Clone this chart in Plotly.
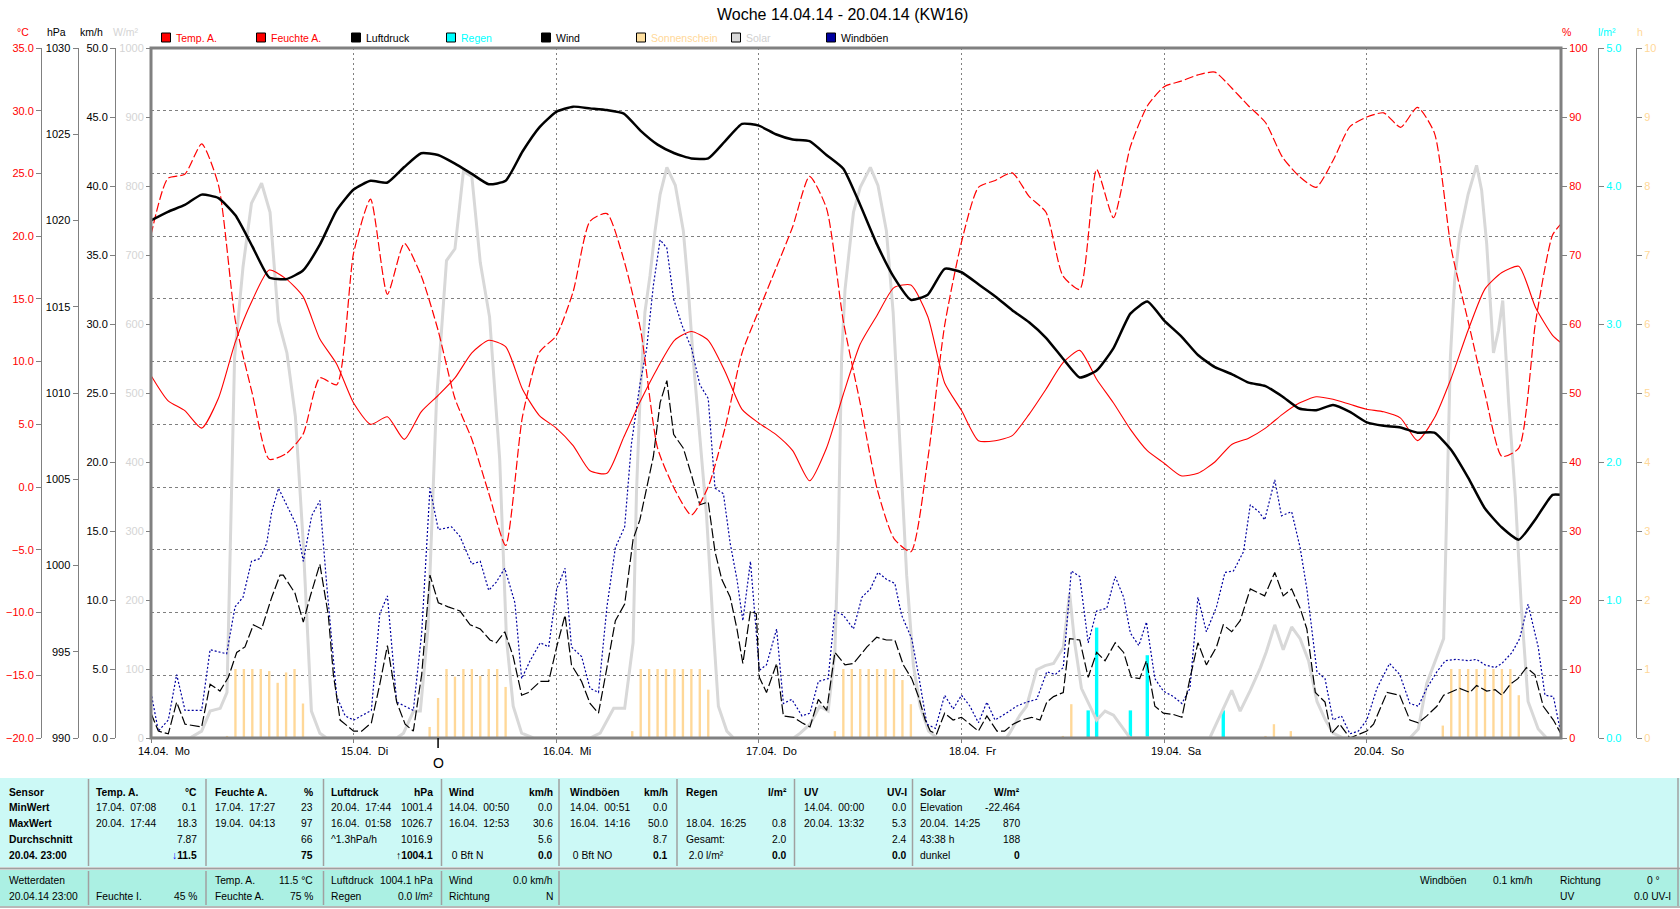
import plotly.graph_objects as go

W, H = 1680, 909

# ---------------- data ----------------
hours = list(range(0, 167, 2)) + [167]

temp = [8.9, 6.9, 6.1, 4.7, 7.1, 11.6, 14.9, 17.3, 16.6, 15.2, 11.8, 9.8, 6.7, 5.0, 5.6, 3.8, 6.0, 7.3, 8.7, 10.7, 11.7, 11.2,
        7.8, 5.7, 4.7, 3.3, 1.3, 1.1, 4.0, 6.9, 9.5, 11.7, 12.4, 11.7, 9.2, 6.2, 5.1, 4.2, 2.9, 0.5, 3.1, 7.4, 11.4,
        13.7, 15.9, 16.1, 13.6, 8.3, 6.1, 3.7, 3.7, 4.1, 5.8, 7.8, 9.9, 10.9, 8.6, 6.7, 4.6, 2.9, 1.9, 0.9, 1.1, 2.0,
        3.4, 3.9, 4.7, 5.8, 6.7, 7.2, 7.0, 6.6, 6.2, 6.0, 5.5, 3.7, 5.5, 8.7, 12.5, 15.8, 17.1, 17.6, 14.3, 12.1, 11.5]

humidity = [72.9, 81.1, 81.7, 86.1, 80.1, 60.4, 49.9, 40.4, 41.2, 44.0, 52.2, 51.2, 70.3, 78.1, 64.3, 71.7, 67.0, 59.1, 49.2, 43.3, 35.5, 27.9,
            46.6, 55.9, 58.3, 64.7, 74.9, 76.0, 69.3, 59.1, 42.0, 36.1, 32.3, 36.4, 45.0, 55.8, 62.0, 68.0, 74.1, 81.4, 76.8, 60.4, 48.5,
            36.1, 28.9, 27.0, 40.4, 59.8, 71.9, 79.8, 80.8, 81.9, 78.5, 76.2, 67.0, 65.0, 82.4, 75.4, 85.7, 91.6, 94.4, 95.2, 96.1, 96.5,
            94.2, 91.6, 89.2, 84.2, 81.4, 79.8, 83.7, 88.6, 90.0, 90.6, 88.5, 91.4, 87.7, 70.9, 60.4, 49.9, 40.8, 42.0, 60.4, 72.9, 74.5]

pressure = [1020.0, 1020.5, 1020.9, 1021.5, 1021.3, 1020.3, 1018.5, 1016.7, 1016.6, 1017.1, 1018.6, 1020.6, 1021.8, 1022.3, 1022.2, 1023.1, 1023.9, 1023.8, 1023.3, 1022.7, 1022.1, 1022.3,
            1024.0, 1025.4, 1026.3, 1026.6, 1026.5, 1026.4, 1026.2, 1025.2, 1024.4, 1023.9, 1023.6, 1023.6, 1024.6, 1025.6, 1025.5, 1025.0, 1024.7, 1024.6, 1023.8, 1023.0, 1020.9,
            1018.6, 1016.7, 1015.4, 1015.7, 1017.2, 1017.0, 1016.3, 1015.6, 1014.8, 1014.1, 1013.2, 1012.0, 1010.9, 1011.3, 1012.6, 1014.6, 1015.3, 1014.2, 1013.3, 1012.2, 1011.5,
            1011.1, 1010.6, 1010.4, 1009.8, 1009.1, 1009.0, 1009.3, 1008.9, 1008.3, 1008.1, 1008.0, 1007.7, 1007.7, 1006.7, 1005.1, 1003.3, 1002.2, 1001.5, 1002.7, 1004.1, 1004.1]

wind_t = [0, 0.87, 2.05, 3.04, 4.03, 6.0, 7.0, 8.17, 9.16, 10.15, 11.13, 12.12, 13.1, 14.3, 15.28, 15.67, 17.05, 18.04, 18.83, 20.0,
          21.0, 21.6, 22.4, 24.0, 24.95, 26.1, 27.1, 28.0, 29.1, 30.1, 31.07, 32.06, 33.04, 34.03, 35.2, 36.6, 37.8, 39.0, 40.15, 40.9, 41.9,
          42.9, 43.9, 44.7, 46.1, 47.1, 48.05, 49.04, 49.8, 51.0, 52.0, 53.0, 54.0, 55.0, 56.1, 57.1, 57.9, 58.7, 59.5, 60.3, 61.1,
          61.9, 63.05, 64.04, 65.0, 66.0, 66.8, 67.6, 68.6, 69.4, 70.1, 71.0, 71.7, 72.05, 72.9, 74.1, 74.9, 76.1, 77.1, 78.05, 79.04,
          80.03, 81.0, 82.2, 83.2, 84.8,
          85.95, 87.1, 88.1, 89.1, 90.1, 90.9, 91.7, 92.3, 93.05, 94.0, 95.0, 96.0, 97.0, 98.0, 99.0, 100.2, 101.1, 102.1, 103.1, 104.3,
          105.3, 106.1, 106.9, 108.05, 108.8, 110.0, 111.0, 112.0, 113.0, 114.2, 115.2, 116.1, 117.1, 117.9, 118.9, 119.9, 121.1, 122.1, 123.05, 124.0,
          125.0,
          126.2, 127.0, 128.0, 129.0, 130.2, 131.9, 133.1, 134.1, 135.1, 136.1, 136.9, 137.9, 139.05, 139.8, 140.8, 142.0, 144.0, 144.8, 146.4, 147.9,
          149.1, 150.1, 151.1, 152.3, 153.1, 155.0, 156.2, 157.0, 158.2, 159.2, 160.0, 161.0, 161.9, 162.9, 163.9, 164.9, 166.1, 167.0]
wind_v = [1.8, 0.5, 0.3, 2.6, 1.0, 0.8, 3.9, 3.4, 4.4, 6.2, 6.6, 8.2, 7.9, 10.2, 11.8, 11.8, 10.5, 8.4, 10.2, 12.6,
          8.9, 4.6, 1.3, 0.5, 0.5, 1.1, 3.9, 6.7, 2.6, 1.0, 0.5, 4.6, 11.8, 9.8, 9.5, 9.2, 8.2, 7.9, 7.1, 6.9, 7.7,
          5.9, 3.1, 3.3, 4.1, 4.1, 6.6, 8.9, 5.3, 4.1, 2.5, 1.8, 5.1, 8.5, 9.7, 14.4, 15.8, 18.2, 20.4, 24.3, 25.9,
          22.0, 21.0, 19.0, 16.9, 17.1, 13.5, 11.5, 10.2, 7.9, 5.4, 9.2, 9.0, 4.4, 3.3, 5.4, 1.6, 1.5, 1.1, 0.8, 2.8,
          2.0, 6.2, 5.3, 5.4, 6.6,
          7.3, 7.1, 7.1, 5.3, 4.3, 3.0, 1.3, 0.5, 0.3, 1.8, 1.3, 1.5, 1.0, 0.5, 1.6, 0.5, 0.5, 1.0, 1.3, 1.5,
          1.3, 2.6, 3.0, 3.3, 7.2, 7.1, 4.4, 6.2, 5.6, 6.9, 6.2, 4.4, 4.3, 5.6, 2.3, 1.8, 1.7, 1.5, 4.3, 6.9,
          5.3,
          6.6, 8.2, 7.7, 8.5, 10.8, 10.3, 12.0, 10.3, 10.8, 9.4, 7.9, 3.3, 2.6, 0.3, 1.0, 0.0, 0.5, 1.0, 3.3, 3.1,
          1.3, 1.1, 1.6, 2.3, 3.1, 3.6, 3.3, 3.8, 3.4, 3.5, 3.1, 3.9, 4.3, 5.1, 4.6, 2.3, 1.3, 0.3]

gust_t = [0, 0.87, 2.05, 3.04, 4.03, 6.0, 7.0, 8.96, 9.95, 10.9, 11.9, 12.9, 13.7, 14.3, 15.1, 16.5, 17.25, 18.04, 19.03, 20.0,
          20.8, 22.0, 23.0, 24.0, 24.95, 26.1, 27.1, 28.0, 29.1, 30.1, 31.07, 32.06, 33.04, 34.03, 35.6, 36.6, 38.0, 39.0, 40.0, 40.9, 41.9,
          43.1, 43.9, 44.9, 46.1, 47.1, 48.05, 49.04, 49.8, 51.0, 52.0, 53.0, 54.0, 55.0, 56.1, 56.9, 57.9, 58.7, 59.5, 60.3, 61.1,
          61.9, 62.9, 64.04, 65.0, 66.0, 66.8, 67.8, 68.6, 69.4, 70.1, 71.0, 71.7, 72.05, 72.9, 74.1, 74.9, 75.9, 77.1, 78.05, 79.04,
          80.2, 81.0, 82.0, 83.2, 84.2, 85.2,
          86.1, 87.1, 88.1, 88.9, 90.1, 90.9, 91.9, 92.9, 94.0, 95.0, 96.0, 97.0, 98.0, 99.0, 99.96, 101.3, 102.5, 103.7, 104.9, 106.1,
          107.1, 108.05, 109.0, 110.0, 111.0, 112.0, 113.2, 114.2, 115.2, 116.0, 117.0, 117.9, 118.9, 119.9, 121.1, 122.1, 123.05, 124.0, 125.0,
          126.2, 127.2, 128.2, 129.4, 130.2, 131.2, 131.9, 133.1, 133.9, 135.1, 136.1, 136.9, 138.1, 139.05, 140.0, 141.0, 142.0, 143.0, 144.0, 145.2,
          146.7, 147.9, 149.1, 150.1, 151.1, 152.3, 153.3, 154.6, 156.0, 157.0, 158.0, 159.2, 160.0, 161.2, 162.1, 163.1, 164.3, 165.1, 166.1, 167.0]
gust_v = [3.3, 0.5, 1.3, 4.6, 2.0, 2.0, 6.4, 6.1, 9.5, 10.2, 12.8, 13.0, 14.1, 16.4, 18.1, 16.4, 15.4, 12.8, 16.1, 17.2,
          11.2, 3.0, 1.6, 1.3, 1.6, 2.0, 9.0, 10.3, 2.6, 2.3, 2.0, 7.6, 18.1, 15.1, 15.3, 14.6, 12.6, 12.8, 10.7, 11.3, 12.3,
          9.8, 4.3, 5.6, 6.9, 6.6, 10.8, 12.3, 6.6, 5.9, 3.6, 3.3, 9.5, 13.8, 15.3, 21.3, 25.6, 28.2, 32.8, 36.1, 35.5,
          31.8, 29.9, 28.2, 25.6, 24.6, 18.1, 17.7, 14.1, 11.5, 8.5, 12.8, 7.9, 4.9, 5.3, 7.9, 2.5, 2.8, 1.6, 1.8, 4.1,
          4.3, 9.2, 8.9, 7.9, 10.2, 10.8,
          12.0, 11.5, 11.2, 8.9, 7.2, 4.6, 1.0, 0.7, 3.1, 2.1, 3.1, 2.3, 1.1, 2.6, 1.3, 1.8, 2.3, 2.6, 2.8, 4.8,
          4.6, 5.1, 12.1, 11.7, 6.9, 9.2, 9.4, 11.7, 10.2, 7.6, 6.7, 8.4, 4.3, 3.4, 3.0, 2.5, 3.6, 10.2, 7.7,
          9.5, 12.0, 12.1, 13.5, 16.9, 16.4, 15.8, 18.7, 16.1, 16.4, 13.8, 10.8, 4.8, 4.3, 1.3, 1.6, 0.3, 0.5, 1.3, 3.6,
          5.4, 4.6, 2.5, 2.3, 3.6, 4.8, 5.6, 5.7, 5.6, 5.7, 5.3, 5.1, 5.4, 6.2, 7.2, 9.7, 6.6, 3.1, 3.0, 0.3]

solar_t = [0, 4.6, 6.0, 7.0, 8.2, 9.0, 9.9, 10.9, 11.9, 13.1, 14.1, 15.1, 16.1, 17.1, 18.0, 19.0, 20.0, 20.8,
           29.1, 29.9, 31.1, 31.9, 32.8, 33.8, 35.0, 36.0, 37.0, 38.0, 39.0, 40.1, 41.3, 42.1, 42.9, 43.9, 45.3,
           52.0, 53.2, 54.8, 56.1, 57.1, 57.5, 57.9, 58.5, 59.1, 59.7, 60.3, 61.1, 62.1, 63.05, 63.6, 64.2, 65.0, 65.8, 66.6, 67.2, 68.2, 69.0,
           76.1, 76.9, 78.05, 79.2, 80.2, 81.0, 81.4, 81.8, 82.2, 82.8, 83.2, 84.0, 85.2, 86.1, 87.1, 87.9, 88.7, 89.5, 90.3, 91.1, 92.1, 93.1,
           101.3, 101.7, 102.9, 103.7, 104.9, 105.9, 106.9, 108.05, 108.8, 109.4, 110.2, 111.2, 112.0, 113.0, 114.0, 115.2, 115.95,
           125.4, 126.6, 128.0, 129.0, 130.2, 131.4, 132.1, 133.1, 134.1, 135.1, 136.1, 137.1, 138.1, 139.1, 140.0, 141.2,
           149.1, 150.1, 151.1, 153.1, 153.5, 153.9, 154.4, 155.0, 156.0, 157.0, 157.6, 158.2, 159.0, 159.6, 160.1, 160.8, 161.6, 162.3, 163.1, 164.3, 165.3, 167.0]
solar_v = [0, 0, 10, 39, 43, 66, 552, 683, 775, 804, 762, 604, 558, 466, 289, 39, 7, 0,
           0, 7, 39, 39, 158, 486, 692, 709, 821, 814, 689, 610, 404, 144, 46, 7, 0,
           0, 7, 43, 43, 138, 355, 486, 617, 670, 735, 788, 827, 801, 735, 657, 552, 440, 322, 158, 46, 10, 0,
           0, 7, 20, 46, 39, 125, 289, 552, 650, 716, 762, 798, 827, 801, 735, 617, 420, 236, 105, 46, 10, 0,
           0, 7, 33, 46, 99, 105, 108, 131, 210, 138, 72, 46, 26, 39, 33, 13, 0,
           0, 33, 69, 39, 69, 102, 125, 164, 128, 161, 144, 112, 53, 26, 7, 0,
           0, 13, 79, 144, 355, 552, 663, 729, 788, 830, 794, 716, 558, 591, 634, 486, 348, 190, 53, 13, 0, 0]

sun_t = [9, 10, 11, 12, 13, 14, 15, 16, 17, 18,
         33, 34, 35, 36, 37, 38, 39, 40, 41, 42,
         57, 58, 59, 60, 61, 62, 63, 64, 65, 66,
         81, 82, 83, 84, 85, 86, 87, 88, 89, 90,
         108, 109,
         132, 133, 135,
         153, 154, 155, 156, 157, 158, 159, 160, 161, 162]
sun_v = [0.03, 1.0, 1.0, 1.0, 1.0, 0.97, 0.8, 0.95, 1.0, 0.5,
         0.16, 0.58, 1.0, 0.89, 1.0, 1.0, 0.9, 1.0, 1.0, 0.74,
         0.1, 1.0, 1.0, 1.0, 1.0, 1.0, 1.0, 1.0, 1.0, 0.7,
         0.1, 1.0, 1.0, 1.0, 1.0, 1.0, 1.0, 1.0, 0.84, 0.49,
         0.03, 0.49,
         0.03, 0.2, 0.1,
         0.18, 1.0, 1.0, 1.0, 1.0, 1.0, 1.0, 1.0, 1.0, 0.62]

rain_t = [111, 112, 116, 118, 127]
rain_v = [0.2, 0.8, 0.2, 0.6, 0.2]

day_ticks = [0, 24, 48, 72, 96, 120, 144]
day_labels = ["14.04.\u00a0 Mo", "15.04.\u00a0 Di", "16.04.\u00a0 Mi", "17.04.\u00a0 Do",
              "18.04.\u00a0 Fr", "19.04.\u00a0 Sa", "20.04.\u00a0 So"]
moon_hour = 34

legend_names = ["Temp. A.", "Feuchte A.", "Luftdruck", "Regen", "Wind", "Sonnenschein", "Solar", "Windböen"]

title_text = "Woche 14.04.14 - 20.04.14 (KW16)"

# summary table
tbl_col0 = ["Sensor", "MinWert", "MaxWert", "Durchschnitt", "20.04. 23:00"]
tbl_heads = [("Temp. A.", "°C"), ("Feuchte A.", "%"), ("Luftdruck", "hPa"), ("Wind", "km/h"),
             ("Windböen", "km/h"), ("Regen", "l/m²"), ("UV", "UV-I"), ("Solar", "W/m²")]
tbl_rows = [
    [("17.04.\u00a0 07:08", "0.1"), ("20.04.\u00a0 17:44", "18.3"), ("", "7.87"), ("", "<span style='color:#0000FF'>↓</span>11.5")],
    [("17.04.\u00a0 17:27", "23"), ("19.04.\u00a0 04:13", "97"), ("", "66"), ("", "75")],
    [("20.04.\u00a0 17:44", "1001.4"), ("16.04.\u00a0 01:58", "1026.7"), ("^1.3hPa/h", "1016.9"), ("", "↑1004.1")],
    [("14.04.\u00a0 00:50", "0.0"), ("16.04.\u00a0 12:53", "30.6"), ("", "5.6"), ("\u00a00 Bft N", "0.0")],
    [("14.04.\u00a0 00:51", "0.0"), ("16.04.\u00a0 14:16", "50.0"), ("", "8.7"), ("\u00a00 Bft NO", "0.1")],
    [("", ""), ("18.04.\u00a0 16:25", "0.8"), ("Gesamt:", "2.0"), ("\u00a02.0 l/m²", "0.0")],
    [("14.04.\u00a0 00:00", "0.0"), ("20.04.\u00a0 13:32", "5.3"), ("", "2.4"), ("", "0.0")],
    [("Elevation", "-22.464"), ("20.04.\u00a0 14:25", "870"), ("43:38 h", "188"), ("dunkel", "0")],
]
status_rows = [
    [("Wetterdaten", ""), ("20.04.14 23:00", "")],
    [("", ""), ("Feuchte I.", "45 %")],
    [("Temp. A.", "11.5 °C"), ("Feuchte A.", "75 %")],
    [("Luftdruck", "1004.1 hPa"), ("Regen", "0.0 l/m²")],
    [("Wind", "0.0 km/h"), ("Richtung", "N")],
]
status_right = [("Windböen", "0.1 km/h", "Richtung", "0 °"), ("", "", "UV", "0.0 UV-I")]

# ---------------- styling / layout ----------------
RED = "#FF0000"
GRAY = "#808080"
SOLAR_C = "#D8D8D8"
SUN_C = "#FFD898"
CYAN = "#00FFFF"
GUST_C = "#0000A0"
FONT = "Liberation Sans"
TFS = 10.3  # table font size

PL, PR, PT, PB = 151, 1561, 48, 738


def px(x):
    return x / W


def py(y):
    return 1 - y / H


xdom = [px(PL), px(PR)]
ydom = [py(PB), py(PT)]

fig = go.Figure()

# draw order: main y (sunshine) first, then overlays in order
fig.add_trace(go.Bar(x=sun_t, y=sun_v, width=0.28, marker=dict(color=SUN_C, line=dict(width=0)),
                     yaxis="y", xaxis="x", hoverinfo="skip"))
fig.add_trace(go.Bar(x=rain_t, y=rain_v, width=0.4, marker=dict(color=CYAN, line=dict(width=0)),
                     yaxis="y2", xaxis="x", hoverinfo="skip"))
fig.add_trace(go.Scatter(x=solar_t, y=solar_v, mode="lines", line=dict(color=SOLAR_C, width=3),
                         yaxis="y3", hoverinfo="skip"))
fig.add_trace(go.Scatter(x=gust_t, y=gust_v, mode="lines", line=dict(color=GUST_C, width=1.2, dash="2px,2px"),
                         yaxis="y4", hoverinfo="skip"))
fig.add_trace(go.Scatter(x=wind_t, y=wind_v, mode="lines", line=dict(color="black", width=1.2, dash="10px,3px"),
                         yaxis="y4", hoverinfo="skip"))
fig.add_trace(go.Scatter(x=hours, y=humidity, mode="lines", line=dict(color=RED, width=1.2, dash="9px,3px", shape="spline", smoothing=0.6),
                         yaxis="y5", hoverinfo="skip"))
fig.add_trace(go.Scatter(x=hours, y=temp, mode="lines", line=dict(color=RED, width=1.1, shape="spline", smoothing=0.6),
                         yaxis="y6", hoverinfo="skip"))
fig.add_trace(go.Scatter(x=hours, y=pressure, mode="lines", line=dict(color="black", width=2.5, shape="spline", smoothing=0.5),
                         yaxis="y7", hoverinfo="skip"))


def yax(rng, dtick, fmt, color, pos, side="left", overlay=True, grid=False):
    d = dict(range=rng, dtick=dtick, tick0=rng[0], tickformat=fmt, tickfont=dict(family=FONT, size=11, color=color),
             ticks="outside", ticklen=5, tickcolor=GRAY, showline=True, linecolor=GRAY, linewidth=1,
             anchor="free", position=pos, side=side, showgrid=grid, zeroline=False, fixedrange=True,
             automargin=False, domain=ydom)
    if grid:
        d.update(gridcolor=GRAY, gridwidth=1, griddash="3px,3px")
    if overlay:
        d["overlaying"] = "y"
        d.pop("domain")
    return d


layout = dict(
    width=W, height=H, autosize=False,
    margin=dict(l=0, r=0, t=0, b=0, pad=0),
    paper_bgcolor="white", plot_bgcolor="white",
    showlegend=False, barmode="overlay", hovermode=False,
    font=dict(family=FONT, size=11, color="black"),
    xaxis=dict(domain=xdom, range=[0, 167], tickvals=day_ticks, showticklabels=False, ticks="outside",
               ticklen=4, tickcolor=GRAY, showgrid=True, gridcolor=GRAY, griddash="2px,3px", gridwidth=1,
               zeroline=False, showline=False, anchor="y", fixedrange=True, automargin=False),
    yaxis=yax([0, 10], 1, "d", "#FFD898", px(1636), side="right", overlay=False),
    yaxis2=yax([0, 5], 1, ".1f", CYAN, px(1598), side="right"),
    yaxis3=yax([0, 1000], 100, "d", "#D4D4D4", px(PL)),
    yaxis4=yax([0, 50], 5, ".1f", "black", px(115)),
    yaxis5=yax([0, 100], 10, "d", RED, px(PR), side="right"),
    yaxis6=yax([-20, 35], 5, ".1f", RED, px(41), grid=True),
    yaxis7=yax([990, 1030], 5, "d", "black", px(77.5)),
)
fig.update_layout(**layout)

shapes = []
annotations = []


def text(x, y, s, anchor="left", color="black", size=TFS, bold=False):
    if bold and s:
        s = "<b>" + s + "</b>"
    annotations.append(dict(x=px(x), y=py(y), xref="paper", yref="paper", text=s, showarrow=False,
                            xanchor=anchor, yanchor="middle", borderpad=0,
                            font=dict(family=FONT, size=size, color=color)))


# plot frame
shapes.append(dict(type="rect", xref="paper", yref="paper", x0=px(PL), x1=px(PR), y0=py(PB), y1=py(PT),
                   line=dict(color=GRAY, width=3), layer="above"))

# title
text(842, 15, title_text, anchor="center", size=16)

# legend
leg_sq = [RED, RED, "black", CYAN, "black", "#FFE0A0", SOLAR_C, GUST_C]
leg_tx = [RED, RED, "black", CYAN, "black", "#FFD898", "#D0D0D0", "black"]
for i, name in enumerate(legend_names):
    x0 = 161.5 + 95 * i
    shapes.append(dict(type="rect", xref="paper", yref="paper", x0=px(x0), x1=px(x0 + 9), y0=py(42), y1=py(33),
                       fillcolor=leg_sq[i], line=dict(color="black", width=1)))
    text(x0 + 13.5, 37.5, name, color=leg_tx[i], size=10.5)

# axis unit labels
text(22.5, 32, "°C", anchor="center", color=RED, size=10.5)
text(57, 32, "hPa", anchor="center", size=10.5)
text(91, 32, "km/h", anchor="center", size=10.5)
text(126, 32, "W/m²", anchor="center", color="#D4D4D4", size=10.5)
text(1566, 32, "%", anchor="center", color=RED, size=10.5)
text(1607, 32, "l/m²", anchor="center", color=CYAN, size=10.5)
text(1640, 32, "h", anchor="center", color="#FFD898", size=10.5)

# day labels
for t, lab in zip(day_ticks, day_labels):
    annotations.append(dict(x=t, y=py(751), xref="x", yref="paper", text=lab, showarrow=False,
                            xanchor="left", yanchor="middle", xshift=-15,
                            font=dict(family=FONT, size=11, color="black")))
# moon phase marker
shapes.append(dict(type="line", xref="x", yref="paper", x0=moon_hour, x1=moon_hour, y0=py(738), y1=py(748),
                   line=dict(color="black", width=1.5)))
annotations.append(dict(x=moon_hour, y=py(763), xref="x", yref="paper", text="O", showarrow=False,
                        xanchor="center", yanchor="middle", font=dict(family=FONT, size=14, color="black")))

# ---------------- bottom table ----------------
TOP_BG = "#CCF9F6"
BOT_BG = "#ABF0E3"
SEP = "#A0A0A0"
shapes.append(dict(type="rect", xref="paper", yref="paper", x0=0, x1=1, y0=py(867), y1=py(778),
                   fillcolor=TOP_BG, line=dict(width=0), layer="below"))
shapes.append(dict(type="rect", xref="paper", yref="paper", x0=0, x1=1, y0=py(906), y1=py(870),
                   fillcolor=BOT_BG, line=dict(width=0), layer="below"))
shapes.append(dict(type="line", xref="paper", yref="paper", x0=0, x1=1, y0=py(868.5), y1=py(868.5),
                   line=dict(color=SEP, width=2)))
shapes.append(dict(type="line", xref="paper", yref="paper", x0=0, x1=1, y0=py(907), y1=py(907),
                   line=dict(color=SEP, width=1.5)))
shapes.append(dict(type="line", xref="paper", yref="paper", x0=px(1678), x1=px(1678), y0=py(906), y1=py(778),
                   line=dict(color=SEP, width=1.5)))

col_sep = [88.5, 206, 323.5, 441.5, 559, 677, 794.5, 912.5]
for i, xs in enumerate(col_sep):
    shapes.append(dict(type="line", xref="paper", yref="paper", x0=px(xs), x1=px(xs), y0=py(866), y1=py(779),
                       line=dict(color=SEP, width=1.5)))
    if i < 5:
        shapes.append(dict(type="line", xref="paper", yref="paper", x0=px(xs), x1=px(xs), y0=py(905), y1=py(871),
                           line=dict(color=SEP, width=1.5)))

row_y = [792, 807.5, 823, 839, 855]
for r, s in enumerate(tbl_col0):
    text(8, row_y[r], s, bold=True)

col_left = [94.6, 213.6, 330, 448, 568.6, 684.6, 803, 918.6]
col_right = [198, 314, 434, 554, 668.6, 788, 908, 1021]
for c, (head, unit) in enumerate(tbl_heads):
    text(col_left[c], row_y[0], head, bold=True)
    text(col_right[c], row_y[0], unit, anchor="right", bold=True)
    for r, (lab, val) in enumerate(tbl_rows[c]):
        last = (r == 3)
        text(col_left[c], row_y[r + 1], lab)
        text(col_right[c], row_y[r + 1], val, anchor="right", bold=last)

st_y = [880, 896]
st_left = [8, 94.6, 213.6, 330, 448]
st_right = [None, 198, 314, 434, 554]
for c, rows in enumerate(status_rows):
    for r, (lab, val) in enumerate(rows):
        text(st_left[c], st_y[r], lab)
        if st_right[c] is not None:
            text(st_right[c], st_y[r], val, anchor="right")
for r, (l1, v1, l2, v2) in enumerate(status_right):
    text(1419, st_y[r], l1)
    text(1534, st_y[r], v1, anchor="right")
    text(1559, st_y[r], l2)
    text(1672 if r == 1 else 1661, st_y[r], v2, anchor="right")

fig.update_layout(shapes=shapes, annotations=annotations)

fig.write_html("out.html", include_plotlyjs=True, full_html=True,
               config={"displayModeBar": False, "staticPlot": True})
